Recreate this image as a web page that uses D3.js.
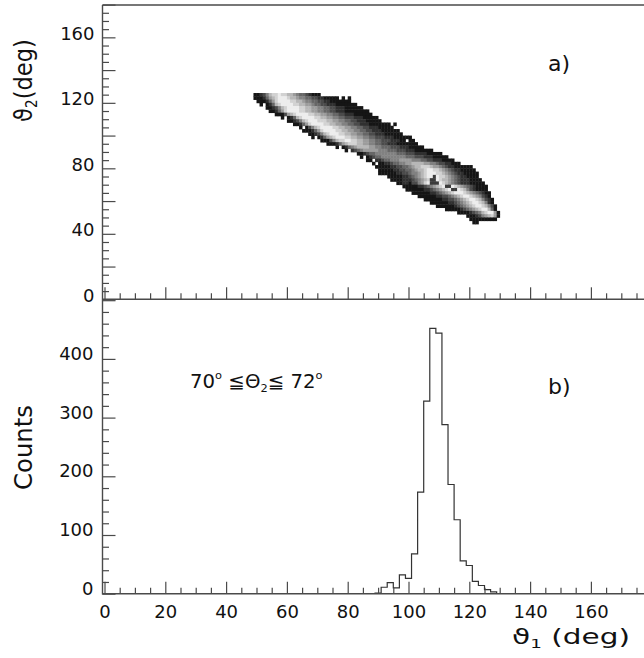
<!DOCTYPE html>
<html>
<head>
<meta charset="utf-8">
<script src="https://cdn.jsdelivr.net/npm/d3@7"></script>
<style>
  html, body { margin: 0; padding: 0; background: #fff; }
  svg { display: block; font-family: "DejaVu Sans", sans-serif; }
</style>
</head>
<body>
<svg id="chart" width="644" height="658"></svg>
<script>
// ---- data ---------------------------------------------------------------

// θ1 projection of the 70°–72° slice in θ2 (2° bins, lower edges)
const sliceBinStarts = [89, 91, 93, 95, 97, 99, 101, 103, 105, 107, 109, 111, 113, 115, 117, 119, 121, 123, 125, 127];
const sliceCounts    = [1, 11, 19, 10, 32, 26, 68, 173, 328, 452, 444, 288, 186, 126, 56, 48, 21, 14, 7, 3];
const sliceBinWidth  = 2;

// θ1–θ2 correlation map. One entry per 2° band of θ2:
// [θ2 lower edge, first θ1 bin (1° wide), shade codes 0-9,a]
// 0 = empty, 1..9 = rising density, a = saturated
const mapRows = [
  [124,  49, "11235 78898 87765 44321 11"],
  [122,  49, "11124 67899 98776 55443 32211 11101 01"],
  [120,  50, "11124 68999 98877 65544 33221 11111 1"],
  [118,  51, "10124 78999 98877 66544 33222 11111 11"],
  [116,  53, "11235 78999 98877 66554 43322 21111 11"],
  [114,  54, "11246 89999 88776 65544 33222 11111 111"],
  [112,  56, "11136 78999 98877 66554 43322 21111 11"],
  [110,  58, "10124 78999 98877 66554 43332 22111 11"],
  [108,  60, "11235 78999 88877 66554 43322 21111 1"],
  [106,  62, "11246 89999 88776 65544 33222 11111 1101"],
  [104,  64, "10135 78999 98877 66554 43322 21111 1"],
  [102,  65, "11124 68999 98877 66554 43322 21111 11"],
  [100,  67, "11235 78999 88776 65544 33222 11111 1"],
  [ 98,  68, "10124 67899 98877 66554 43332 22111 111"],
  [ 96,  71, "11135 78899 88776 65544 33322 21101 1"],
  [ 94,  73, "11124 67888 77665 54433 22211 11111"],
  [ 92,  76, "10124 56777 76655 44433 32221 1111"],
  [ 90,  79, "10234 56666 65554 44333 22211 1111"],
  [ 88,  83, "11234 45555 55544 43332 22211 111"],
  [ 86,  84, "10123 44555 55555 44433 32221 1111"],
  [ 84,  86, "11022 34455 56666 55544 33222 1111"],
  [ 82,  88, "10112 23445 56677 77665 54332 2111"],
  [ 80,  89, "11111 22334 45677 88876 65432 21111 11"],
  [ 78,  89, "01111 12233 44567 78998 87654 32211 111"],
  [ 76,  90, "11111 12233 45567 89998 87654 32211 111"],
  [ 74,  93, "11111 22345 67899 a9887 65432 21111"],
  [ 72,  94, "11112 22345 678aa 98776 54322 21111"],
  [ 70,  96, "11221 33568 9aaa9 87654 32221 1111"],
  [ 68,  98, "11111 22345 6789a a9876 54321 111"],
  [ 66,  99, "11111 12234 56789 aa987 53211 11"],
  [ 64, 101, "11111 12234 56789 99876 54321 1"],
  [ 62, 103, "11111 12233 45678 99876 5321"],
  [ 60, 105, "11111 12233 45678 99875 321"],
  [ 58, 107, "11111 12234 56789 98752 1"],
  [ 56, 109, "11111 12345 67899 8753 1"],
  [ 54, 112, "11111 23456 78997 41"],
  [ 52, 116, "11112 34578 9961"],
  [ 50, 119, "11123 56786 1"],
  [ 48, 120, "11111 1111"],
  [ 46, 121, "11"]
];
const mapBinWidthX = 1;
const mapBinWidthY = 2;

// axis ticks
const angleMajorTicks   = [0, 20, 40, 60, 80, 100, 120, 140, 160, 180];
const angleLabels       = [0, 20, 40, 60, 80, 100, 120, 140, 160];
const theta2Labels      = [0, 40, 80, 120, 160];
const countMajorTicks   = [0, 100, 200, 300, 400, 500];
const countLabels       = [0, 100, 200, 300, 400];

// ---- layout ---------------------------------------------------------------
const svg = d3.select("#chart");
const frameLeft = 102.5, frameTop = 5, frameRight = 644;
const topAxisY = 299.3, botAxisY = 593.7;
const axisColor = "#4a4a4a";

const x    = d3.scaleLinear().domain([0, 180]).range([104.5, 104.5 + 180 * 3.04]);
const yTop = d3.scaleLinear().domain([0, 180]).range([topAxisY, 4.6]);
const yBot = d3.scaleLinear().domain([0, 500]).range([botAxisY, 300.2]);

const minorAngle = d3.range(0, 181, 5).filter(v => v % 20 !== 0);
const minorCount = d3.range(0, 501, 20).filter(v => v % 100 !== 0);

// ---- heat map ---------------------------------------------------------------
const ramp = d3.scaleLinear().domain([1, 9]).range(["#151515", "#ededed"]);
const shade = v => (v >= 10 ? "#3b3b3b" : ramp(v));

const cells = [];
mapRows.forEach(([y2, x1, codes]) => {
  codes.replace(/\s+/g, "").split("").forEach((c, i) => {
    const v = parseInt(c, 16);
    if (v > 0) cells.push({ t1: x1 + i * mapBinWidthX, t2: y2, v });
  });
});

svg.append("g").selectAll("rect").data(cells).join("rect")
  .attr("x", d => x(d.t1))
  .attr("y", d => yTop(d.t2 + mapBinWidthY))
  .attr("width", d => x(d.t1 + mapBinWidthX) - x(d.t1) + 0.4)
  .attr("height", d => yTop(d.t2) - yTop(d.t2 + mapBinWidthY) + 0.4)
  .attr("fill", d => shade(d.v));

// ---- histogram ---------------------------------------------------------------
const histPts = [[sliceBinStarts[0], 0]]
  .concat(sliceBinStarts.map((s, i) => [s, sliceCounts[i]]))
  .concat([[sliceBinStarts[sliceBinStarts.length - 1] + sliceBinWidth, 0]]);

svg.append("path")
  .datum(histPts)
  .attr("fill", "none")
  .attr("stroke", "#333")
  .attr("stroke-width", 1.2)
  .attr("d", d3.line().x(d => x(d[0])).y(d => yBot(d[1])).curve(d3.curveStepAfter));

// ---- axes ---------------------------------------------------------------
function styleAxis(g) {
  g.select(".domain").remove();
  g.selectAll(".tick line").attr("stroke", axisColor).attr("stroke-width", 1.2);
  g.selectAll("text").attr("fill", "#111").attr("font-size", 18)
    .attr("font-family", "DejaVu Sans, sans-serif");
}

// x axes (ticks point up into each panel)
[topAxisY, botAxisY].forEach((yy, k) => {
  svg.append("g").attr("transform", `translate(0,${yy})`)
    .call(d3.axisBottom(x).tickValues(minorAngle).tickSize(-6).tickFormat(""))
    .call(styleAxis);
  const g = svg.append("g").attr("transform", `translate(0,${yy})`)
    .call(d3.axisBottom(x).tickValues(angleMajorTicks).tickSize(-12)
      .tickFormat(d => (k === 1 && angleLabels.includes(d)) ? d : ""))
    .call(styleAxis);
  g.selectAll("text").attr("y", 24.6).attr("dy", 0);
});

// θ2 axis
svg.append("g").attr("transform", `translate(${frameLeft},0)`)
  .call(d3.axisLeft(yTop).tickValues(d3.range(0, 181, 5).filter(v => v % 20 !== 0)).tickSize(-6.5).tickFormat(""))
  .call(styleAxis);
svg.append("g").attr("transform", `translate(${frameLeft},0)`)
  .call(d3.axisLeft(yTop).tickValues(d3.range(0, 181, 20)).tickSize(-13).tickPadding(8)
    .tickFormat(d => theta2Labels.includes(d) ? d : ""))
  .call(styleAxis)
  .selectAll("text").attr("dy", 2);

// counts axis
svg.append("g").attr("transform", `translate(${frameLeft},0)`)
  .call(d3.axisLeft(yBot).tickValues(minorCount).tickSize(-6.5).tickFormat(""))
  .call(styleAxis);
svg.append("g").attr("transform", `translate(${frameLeft},0)`)
  .call(d3.axisLeft(yBot).tickValues(countMajorTicks).tickSize(-13).tickPadding(9)
    .tickFormat(d => countLabels.includes(d) ? d : ""))
  .call(styleAxis)
  .selectAll("text").attr("dy", 0.5);

// frame lines
const frame = svg.append("g").attr("stroke", axisColor).attr("stroke-width", 1.4);
frame.append("line").attr("x1", frameLeft).attr("x2", frameLeft).attr("y1", frameTop).attr("y2", botAxisY + 0.7);
frame.append("line").attr("x1", frameLeft).attr("x2", frameRight).attr("y1", frameTop).attr("y2", frameTop);
frame.append("line").attr("x1", frameLeft).attr("x2", frameRight).attr("y1", topAxisY).attr("y2", topAxisY);
frame.append("line").attr("x1", frameLeft).attr("x2", frameRight).attr("y1", botAxisY).attr("y2", botAxisY);

// ---- text ---------------------------------------------------------------
function label(o) {
  const g = svg.append("g").attr("transform", `translate(${o.x},${o.y}) rotate(${o.rotate || 0})`);
  const t = g.append("text").attr("text-anchor", o.anchor || "start")
    .attr("font-size", o.size).attr("fill", "#111");
  o.parts.forEach(p => {
    t.append("tspan").attr("font-size", p.size || o.size).attr("dy", p.dy || 0).text(p.t);
  });
  if (o.width) {
    const w = t.node().getBBox().width;
    t.attr("transform", `scale(${o.width / w},1)`);
  }
  return t;
}

label({ x: 32, y: 122, rotate: -90, size: 25, width: 83,
  parts: [{ t: "\u03D1" }, { t: "2", size: 15, dy: 5 }, { t: "(deg)", dy: -5 }] });

label({ x: 31.7, y: 447.5, rotate: -90, size: 25, anchor: "middle", width: 85,
  parts: [{ t: "Counts" }] });

label({ x: 630, y: 644, size: 21, anchor: "end", width: 118,
  parts: [{ t: "\u03D1" }, { t: "1", size: 13, dy: 4 }, { t: " (deg)", dy: -4 }] });

label({ x: 548, y: 71, size: 22, parts: [{ t: "a)" }] });
label({ x: 548, y: 394, size: 22, parts: [{ t: "b)" }] });

label({ x: 190, y: 388, size: 19, width: 133,
  parts: [
    { t: "70" }, { t: "o", size: 11, dy: -9 }, { t: " \u2266", dy: 9 },
    { t: "\u0398" }, { t: "2", size: 11, dy: 4 }, { t: "\u2266 ", dy: -4 },
    { t: "72" }, { t: "o", size: 11, dy: -9 }
  ] });
</script>
</body>
</html>
